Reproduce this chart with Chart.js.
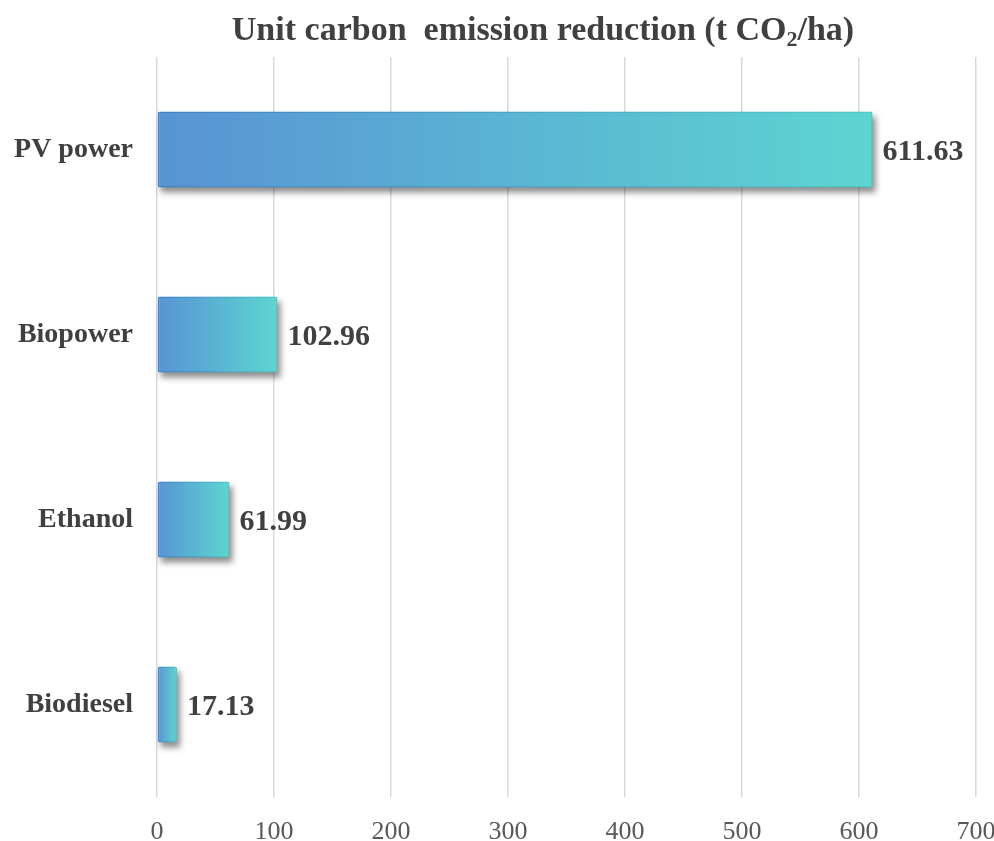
<!DOCTYPE html>
<html>
<head>
<meta charset="utf-8">
<script src="https://cdn.jsdelivr.net/npm/chart.js@4/dist/chart.umd.min.js"></script>
<style>
  html, body { margin: 0; padding: 0; background: #ffffff; }
  #wrap { width: 994px; height: 841px; position: relative; }
</style>
</head>
<body>
<div id="wrap"><canvas id="c" width="994" height="841"></canvas></div>
<script>
// Unit carbon emission reduction by land use (t CO2/ha)
const categories = ['PV power', 'Biopower', 'Ethanol', 'Biodiesel'];
const reduction = [611.63, 102.96, 61.99, 17.13];
const xTicks = [0, 100, 200, 300, 400, 500, 600, 700];

const SERIF = '"Liberation Serif", "Times New Roman", serif';
const TEXT = '#404040';

function barGradient(ctx, from, to) {
  const chart = ctx.chart;
  const xs = chart.scales && chart.scales.x;
  if (!xs || ctx.raw === undefined || !chart.chartArea) return from;
  const x0 = xs.getPixelForValue(0);
  const x1 = xs.getPixelForValue(ctx.raw);
  const g = chart.ctx.createLinearGradient(x0, 0, x1, 0);
  g.addColorStop(0, from);
  g.addColorStop(1, to);
  return g;
}

// soft blurred shadow painted underneath each bar
const barShadow = {
  id: 'barShadow',
  beforeDatasetsDraw(chart) {
    const c = chart.ctx;
    const meta = chart.getDatasetMeta(0);
    c.save();
    c.filter = 'blur(3px)';
    c.fillStyle = 'rgba(0,0,0,0.45)';
    meta.data.forEach(bar => {
      const p = bar.getProps(['x', 'y', 'base', 'height'], true);
      const left = Math.min(p.x, p.base);
      const w = Math.abs(p.x - p.base);
      c.fillRect(left + 3, p.y - p.height / 2 + 5, w, p.height);
    });
    c.restore();
  }
};

// value printed just past the end of each bar
const valueLabels = {
  id: 'valueLabels',
  afterDatasetsDraw(chart) {
    const c = chart.ctx;
    const meta = chart.getDatasetMeta(0);
    c.save();
    c.font = 'bold 30px ' + SERIF;
    c.fillStyle = TEXT;
    c.textAlign = 'left';
    c.textBaseline = 'middle';
    meta.data.forEach((bar, i) => {
      c.fillText(reduction[i].toFixed(2), bar.x + 10, bar.y + 3);
    });
    c.restore();
  }
};

// heading with a subscript in CO2
const heading = {
  id: 'heading',
  afterDraw(chart) {
    const c = chart.ctx;
    const parts = [
      { t: 'Unit carbon  emission reduction (t CO', size: 34, dy: 0 },
      { t: '2', size: 22, dy: 6 },
      { t: '/ha)', size: 34, dy: 0 }
    ];
    c.save();
    c.fillStyle = TEXT;
    c.textBaseline = 'alphabetic';
    c.textAlign = 'left';
    let total = 0;
    parts.forEach(p => { c.font = 'bold ' + p.size + 'px ' + SERIF; p.w = c.measureText(p.t).width; total += p.w; });
    let x = 543 - total / 2;
    parts.forEach(p => {
      c.font = 'bold ' + p.size + 'px ' + SERIF;
      c.fillText(p.t, x, 40 + p.dy);
      x += p.w;
    });
    c.restore();
  }
};

new Chart(document.getElementById('c'), {
  type: 'bar',
  data: {
    labels: categories,
    datasets: [{
      data: reduction,
      backgroundColor: (ctx) => barGradient(ctx, '#5893d4', '#5dd5d1'),
      borderColor: (ctx) => barGradient(ctx, '#4283ca', '#4ccac6'),
      borderWidth: 1.5,
      borderRadius: 2,
      borderSkipped: false,
      categoryPercentage: 1,
      barPercentage: 0.41
    }]
  },
  options: {
    indexAxis: 'y',
    responsive: false,
    animation: false,
    devicePixelRatio: 1,
    layout: { padding: { top: 57, right: 18, bottom: 0, left: 0 } },
    plugins: {
      legend: { display: false },
      title: { display: false },
      tooltip: { enabled: false }
    },
    scales: {
      x: {
        min: 0,
        max: 700,
        afterBuildTicks(scale) { scale.ticks = xTicks.map(v => ({ value: v })); },
        afterFit(scale) {
          scale.height = 44;
          scale.paddingLeft = 0;
          scale.paddingRight = 0;
        },
        grid: { color: '#d9d9d9', lineWidth: 1.5, drawTicks: false },
        border: { display: false },
        ticks: {
          padding: 20,
          color: '#595959',
          font: { family: SERIF, size: 26 }
        }
      },
      y: {
        afterFit(scale) { scale.width = 157; },
        grid: { display: false, drawTicks: false },
        border: { display: false },
        ticks: {
          padding: 24,
          color: TEXT,
          font: { family: SERIF, size: 28, weight: 'bold' }
        }
      }
    }
  },
  plugins: [barShadow, valueLabels, heading]
});
</script>
</body>
</html>
